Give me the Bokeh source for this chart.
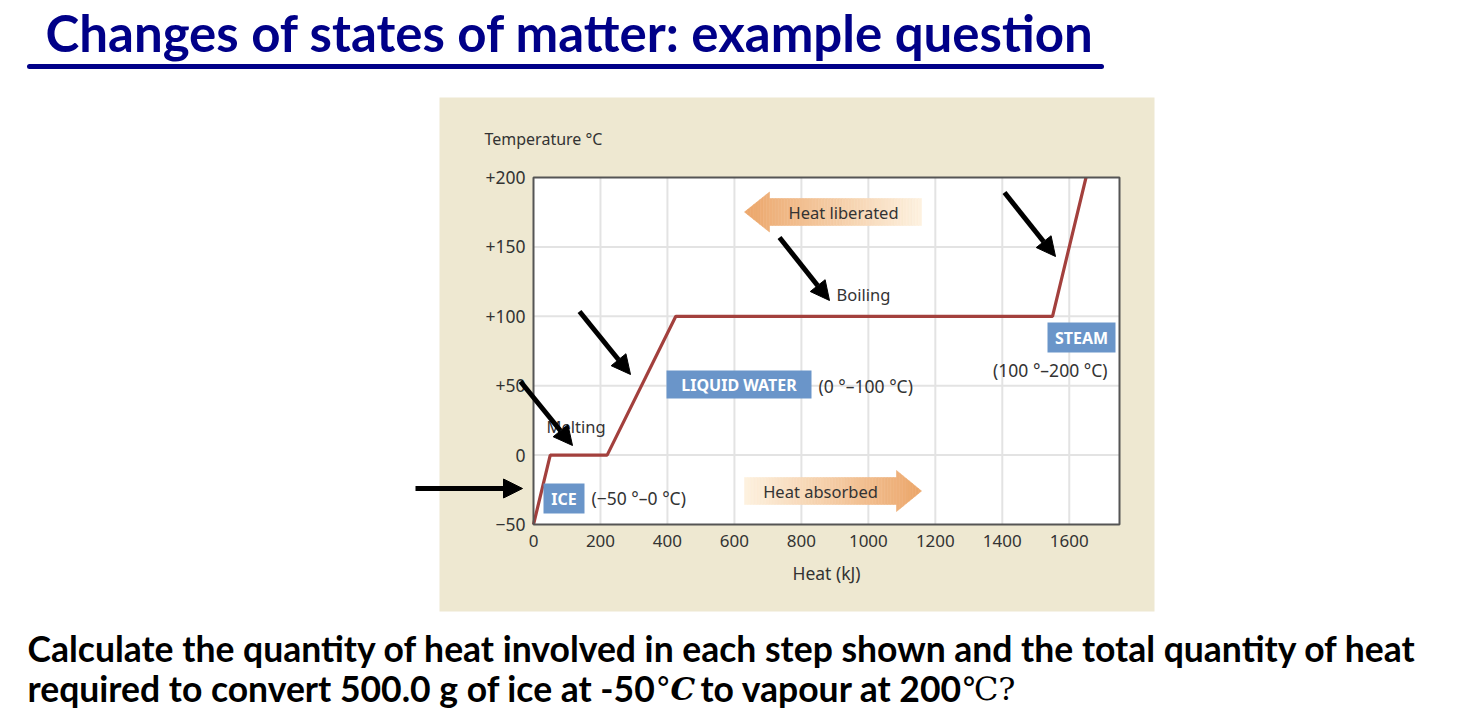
from bokeh.plotting import figure
from bokeh.models import Range1d, Arrow, NormalHead
from bokeh.core.properties import value
from bokeh.embed import file_html
from bokeh.resources import INLINE

# ---------------- data ----------------
heat_kj = [0, 50, 220, 425, 1550, 1650]
temperature_c = [-50, 0, 0, 100, 100, 200]

x_tick_values = [0, 200, 400, 600, 800, 1000, 1200, 1400, 1600]
x_tick_labels = ["0", "200", "400", "600", "800", "1000", "1200", "1400", "1600"]
y_tick_values = [-50, 0, 50, 100, 150, 200]
y_tick_labels = ["\u221250", "0", "+50", "+100", "+150", "+200"]
x_grid_values = [200, 400, 600, 800, 1000, 1200, 1400, 1600]
y_grid_values = [0, 50, 100, 150]

phase_names = ["ICE", "LIQUID WATER", "STEAM"]
phase_ranges = ["(\u221250 \u00b0\u20130 \u00b0C)", "(0 \u00b0\u2013100 \u00b0C)", "(100 \u00b0\u2013200 \u00b0C)"]
process_names = ["Melting", "Boiling"]
heat_flow_labels = ["Heat liberated", "Heat absorbed"]

title_text = "Changes of states of matter: example question"
y_axis_title = "Temperature \u00b0C"
x_axis_title = "Heat (kJ)"
question_line1 = "Calculate the quantity of heat involved in each step shown and the total quantity of heat"
question_line2 = ["required to convert 500.0 g of ice at -50", "\u00b0", "C", "to vapour at 200", "\u2103?"]

# ---------------- layout (pixels) ----------------
W, H = 1484, 722
PL, PR, PT, PB = 533, 1119, 177, 524
XMIN, XMAX, YMIN, YMAX = 0, 1750, -50, 200
SX = (PR - PL) / (XMAX - XMIN)
SY = (PB - PT) / (YMAX - YMIN)


def dx(px):
    return XMIN + (px - PL) / SX


def dy(py):
    return YMAX - (py - PT) / SY


NAVY = "#000088"
BEIGE = "#eee8d1"
BLUE = "#6a95c9"
CURVE = "#a3403d"
TXT = "#333333"
GRID = "#e3e3e3"
FRAME = "#555555"
ORANGE = (236, 166, 106)
PALE = (253, 242, 224)
CHART_FONT = "Noto Sans"
SLIDE_FONT = "Lato"

p = figure(width=W, height=H, x_range=Range1d(dx(0), dx(W)), y_range=Range1d(dy(H), dy(0)),
           min_border=0, toolbar_location=None, output_backend="svg",
           x_axis_type=None, y_axis_type=None, outline_line_color=None,
           background_fill_color="white", border_fill_color="white")


def txt(x_px, y_px, s, size, color=TXT, align="left", font=CHART_FONT, style="normal", baseline="middle"):
    p.text(x=[dx(x_px)], y=[dy(y_px)], text=[s], text_font=value(font), text_font_size=f"{size}px",
           text_font_style=style, text_color=color, text_align=align, text_baseline=baseline)


# beige panel and white plotting area
p.quad(left=[dx(439)], right=[dx(1154)], top=[dy(97)], bottom=[dy(611)], fill_color=BEIGE, line_color=None)
p.quad(left=[XMIN], right=[XMAX], top=[YMAX], bottom=[YMIN], fill_color="white", line_color=None)

# grid
p.segment(x0=x_grid_values, y0=[YMIN] * len(x_grid_values), x1=x_grid_values, y1=[YMAX] * len(x_grid_values),
          line_color=GRID, line_width=2)
p.segment(x0=[XMIN] * len(y_grid_values), y0=y_grid_values, x1=[XMAX] * len(y_grid_values), y1=y_grid_values,
          line_color=GRID, line_width=2)


# gradient arrows (heat flow)
def lerp_color(c1, c2, t):
    return "#%02x%02x%02x" % tuple(int(round(a + (b - a) * t)) for a, b in zip(c1, c2))


def flow_arrow(x_left, x_right, x_base, yc, body_h, head_h, pointing_left):
    xs, ys, cols = [], [], []
    if pointing_left:
        regions = [(x_left, x_base, "head"), (x_base, x_right, "body")]
    else:
        regions = [(x_left, x_base, "body"), (x_base, x_right, "head")]
    for a0, b0, kind in regions:
        n = max(2, int((b0 - a0) / 3))
        for i in range(n):
            a = a0 + (b0 - a0) * i / n
            b = a0 + (b0 - a0) * (i + 1) / n
            if kind == "body":
                ha = hb = body_h
            elif pointing_left:
                ha = head_h * (a - x_left) / (x_base - x_left)
                hb = head_h * (b - x_left) / (x_base - x_left)
            else:
                ha = head_h * (x_right - a) / (x_right - x_base)
                hb = head_h * (x_right - b) / (x_right - x_base)
            xs.append([dx(a), dx(b), dx(b), dx(a)])
            ys.append([dy(yc - ha), dy(yc - hb), dy(yc + hb), dy(yc + ha)])
            t = ((a + b) / 2 - x_left) / (x_right - x_left)
            cols.append(lerp_color(ORANGE, PALE, t) if pointing_left else lerp_color(PALE, ORANGE, t))
    p.patches(xs=xs, ys=ys, fill_color=cols, line_color=cols, line_width=0.6)


flow_arrow(744, 921, 769, 211.5, 13.5, 20, True)
flow_arrow(744, 921, 896, 490.5, 13.5, 20.5, False)
txt(843, 211.5, heat_flow_labels[0], 16.5, align="center")
txt(820, 490.5, heat_flow_labels[1], 16.5, align="center")

# heating curve
p.line(heat_kj, temperature_c, line_color=CURVE, line_width=3.2)

# frame
p.quad(left=[XMIN], right=[XMAX], top=[YMAX], bottom=[YMIN], fill_color=None, line_color=FRAME, line_width=2)

# tick labels
p.text(x=x_tick_values, y=[YMIN] * len(x_tick_values), text=x_tick_labels, y_offset=16,
       text_font=value(CHART_FONT), text_font_size="17px", text_color=TXT,
       text_align="center", text_baseline="middle")
p.text(x=[XMIN] * len(y_tick_values), y=y_tick_values, text=y_tick_labels, x_offset=-8,
       text_font=value(CHART_FONT), text_font_size="17.5px", text_color=TXT,
       text_align="right", text_baseline="middle")

txt(484, 138, y_axis_title, 16)
txt(826, 572, x_axis_title, 17.5, align="center")

# phase boxes
boxes = [(543, 584, 483, 513), (666, 811, 370, 398), (1047, 1115, 322, 352)]
for (l, r, t, b), name in zip(boxes, phase_names):
    p.quad(left=[dx(l)], right=[dx(r)], top=[dy(t)], bottom=[dy(b)], fill_color=BLUE, line_color=None)
    txt((l + r) / 2, (t + b) / 2 + 0.5, name, 16, color="white", align="center", style="bold")
txt(591, 497, phase_ranges[0], 17.5)
txt(818, 385, phase_ranges[1], 17.5)
txt(1107, 369, phase_ranges[2], 17.5, align="right")
txt(546, 426, process_names[0], 16.5)
txt(836, 294, process_names[1], 16.5)

# black pointer arrows
pointers = [((415, 488), (522, 488)), ((520, 381), (572, 445)), ((579, 311), (630, 374)),
            ((779, 237), (829, 300)), ((1004, 192), (1055, 256))]
for (x0, y0), (x1, y1) in pointers:
    p.add_layout(Arrow(end=NormalHead(size=19, fill_color="black", line_color="black", line_width=1),
                       x_start=dx(x0), y_start=dy(y0), x_end=dx(x1), y_end=dy(y1),
                       line_color="black", line_width=5))

# slide title and underline
txt(45, 32, title_text, 51, color=NAVY, font=SLIDE_FONT, style="bold")
p.segment(x0=[dx(29)], y0=[dy(66)], x1=[dx(1101)], y1=[dy(66)], line_color=NAVY, line_width=5, line_cap="round")

# question
QS = 35.5
txt(27, 648, question_line1, QS, color="black", font=SLIDE_FONT, style="bold")
txt(27, 688, question_line2[0], QS, color="black", font=SLIDE_FONT, style="bold")
txt(655, 688, question_line2[1], 31, color="black", font="DejaVu Serif")
txt(670, 688, question_line2[2], 31, color="black", font="DejaVu Serif", style="bold italic")
txt(700, 688, question_line2[3], QS, color="black", font=SLIDE_FONT, style="bold")
txt(962, 688, question_line2[4], 32, color="black", font="DejaVu Serif")

open("out.html", "w").write(file_html(p, INLINE))
